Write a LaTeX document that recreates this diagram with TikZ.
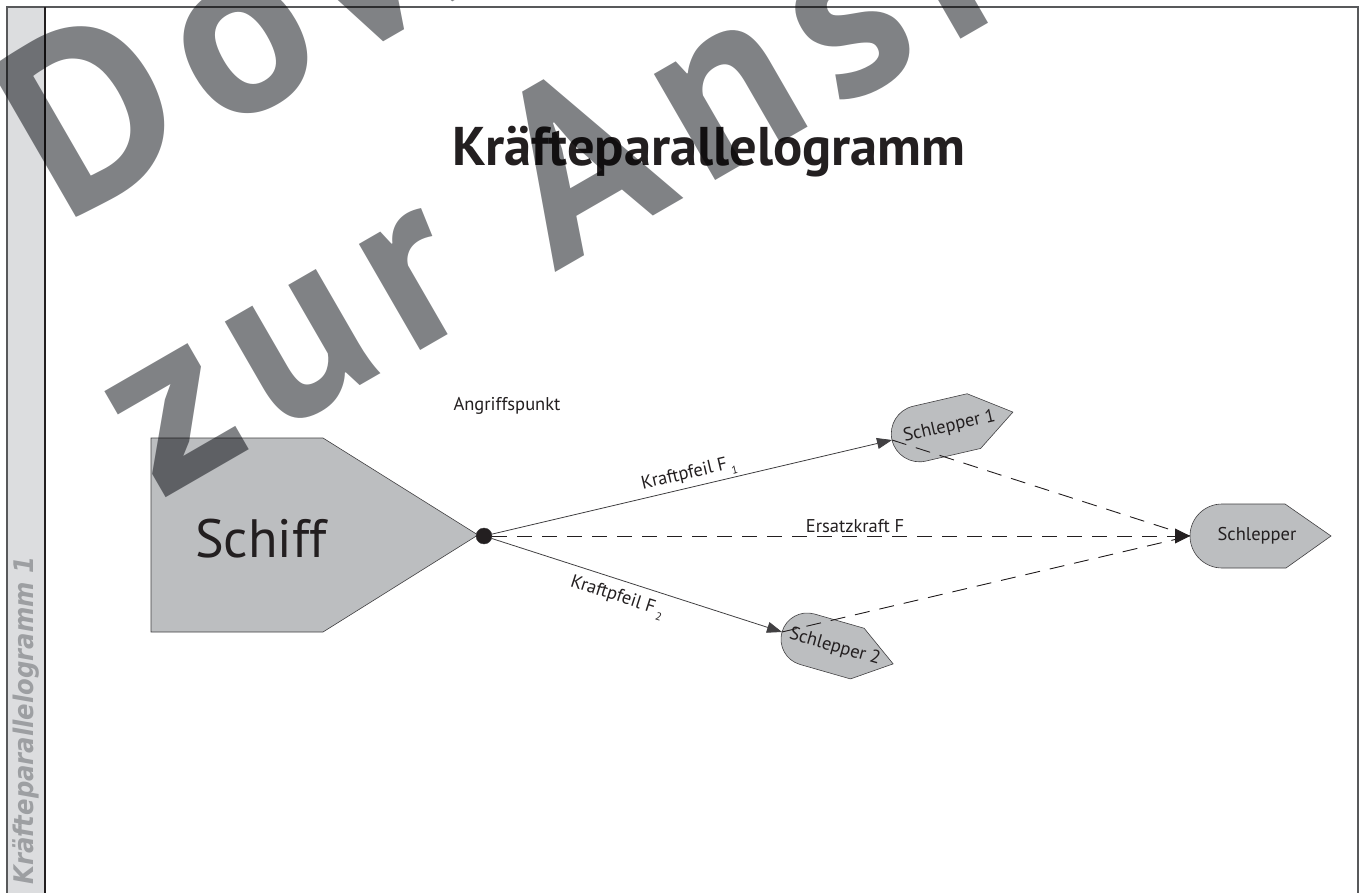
\documentclass[tikz,border=0pt]{standalone}
\usepackage{fontspec}
\setmainfont{PT Sans}
\newfontfamily\seitenfont{DejaVu Sans Condensed}
\newfontfamily\wzfont[LetterSpace=9]{PT Sans}
\usepackage{tikz}
\usetikzlibrary{calc}
\usetikzlibrary{arrows.meta}
\definecolor{bootgrau}{HTML}{BCBEC0}
\definecolor{linie}{HTML}{414042}
\definecolor{schrift}{HTML}{231F20}
\definecolor{streifen}{HTML}{DCDDDF}
\definecolor{rahmengrau}{HTML}{58595B}
\definecolor{seitengrau}{HTML}{9D9FA2}
\definecolor{wzgrau}{HTML}{808285}
\newcommand{\idx}[1]{\,\raisebox{-0.6ex}{\fontsize{11}{12}\selectfont #1}}

\tikzset{
	boot/.style={draw=linie, fill=bootgrau, line width=0.6pt},
	punkt/.style={circle, fill=schrift, draw=linie, minimum size=16pt, inner sep=0pt},
	kraft/.style={-{Triangle[length=15pt,width=11pt]}, draw=linie, line width=0.8pt},
	ersatz/.style={-{Triangle[length=15pt,width=15pt]}, draw=schrift, line width=0.9pt, dash pattern=on 15pt off 10pt},
	hilfslinie/.style={draw=schrift, line width=0.9pt, dash pattern=on 15pt off 10pt},
	beschriftung/.style={text=schrift, font=\fontsize{18.5}{20}\selectfont, inner sep=3pt},
	klein/.style 2 args={scale=#1, beschriftung/.append style={font=\fontsize{#2}{22}\selectfont}},
	wasserzeichen/.style={anchor=base west, rotate=30, inner sep=0pt, text=wzgrau, font=\wzfont\fontsize{245}{245}\selectfont\bfseries},
	seitentext/.style={anchor=base west, rotate=90, inner sep=0pt, text=seitengrau, font=\seitenfont\fontsize{27}{30}\selectfont\bfseries\itshape},
	schlepper/.pic={
		\draw [boot] (32,-32) -- (95,-32) -- (141,0) -- (96,32) -- (32,32) arc [start angle=90, end angle=270, radius=32] -- cycle;
		\node [transform shape, beschriftung] (-text) at (67,0) {#1};
	}
}

\begin{document}
\begin{tikzpicture}[x=1pt,y=-1pt]
	\useasboundingbox (0,0) rectangle (1366,893);
	%frame
	\fill [streifen] (7,7) rectangle (45,893);
	\draw [rahmengrau, line width=1.6pt] (7,893) -- (7,7) -- (1358,7) -- (1358,893);
	\draw [schrift, line width=1.4pt] (45,7) -- (45,893);
	%side label
	\node [seitentext] at (34,885) (seite) {Kräfteparallelogramm 1};
	%title
	\node [anchor=base, text=schrift, font=\fontsize{54.5}{60}\selectfont\bfseries] at (709,166) (titel) {Kräfteparallelogramm};

	%ship
	\draw [boot] (151,438) -- (323,438) -- (478,535) -- (323,632) -- (151,632) -- cycle;
	\node [anchor=base, text=schrift, font=\fontsize{54}{64}\selectfont] at (261,557) (schiff) {Schiff};
	\node [anchor=base, beschriftung] at (507,410) (angriff) {Angriffspunkt};

	%point of attack and arrow ends
	\node [punkt] at (484,536) (p) {};
	\coordinate (f1) at (892,440);
	\coordinate (f2) at (782,632);
	\coordinate (f) at ($(f1)+(f2)-(p)$);

	%tugs
	\pic (s1) [rotate=13, klein={0.88}{21}] at (f1) {schlepper={Schlepper 1}};
	\pic (s2) [rotate=-16, klein={0.82}{22.5}] at (f2) {schlepper={Schlepper 2}};
	\pic (s) at (f) {schlepper=Schlepper};

	%forces
	\draw [kraft] (p) -- node [beschriftung, sloped, above, pos=0.5] {Kraftpfeil F\idx{1}} (f1);
	\draw [kraft] (p) -- node [beschriftung, sloped, below=5pt, pos=0.45] {Kraftpfeil F\idx{2}} (f2);
	\draw [ersatz] (p) -- node [beschriftung, above, pos=0.52] {Ersatzkraft F} (f);
	\draw [hilfslinie] (f1) -- (f);
	\draw [hilfslinie] (f2) -- (f);

	%watermark
	\begin{scope}[blend mode=multiply]
		\node [wasserzeichen] at (63,225) (wz1) {Download};
		\node [wasserzeichen] at (159,502) (wz2) {zur Ansicht};
	\end{scope}
\end{tikzpicture}
\end{document}
